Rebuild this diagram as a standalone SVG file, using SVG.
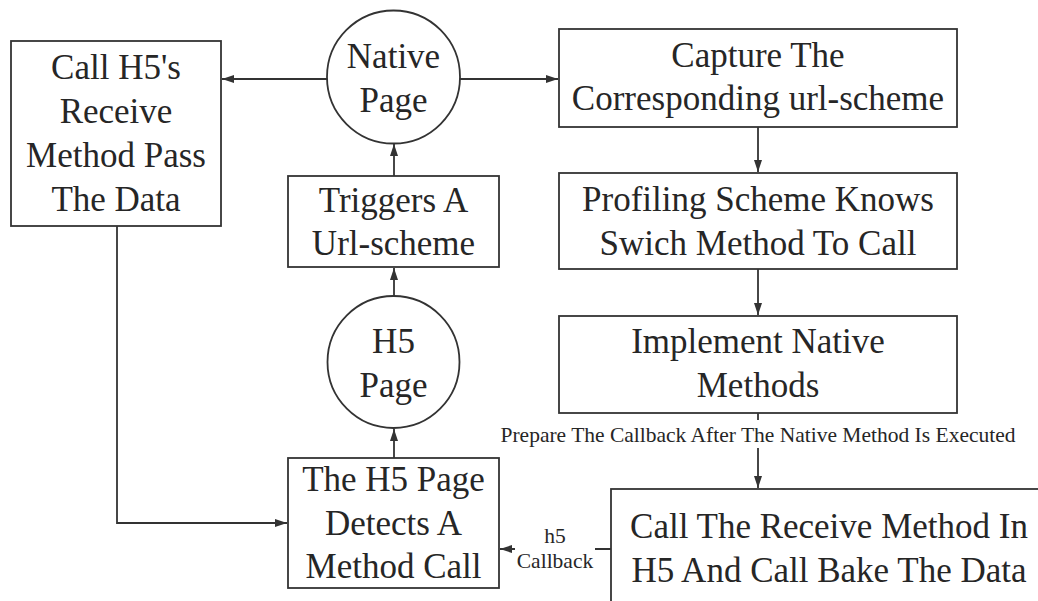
<svg xmlns="http://www.w3.org/2000/svg" width="1038" height="601" viewBox="0 0 1038 601">
<style>
.box{fill:#fff;stroke:#333;stroke-width:1.8}
.t{font-family:'Liberation Serif','DejaVu Serif',serif;font-size:35px;fill:#262626;text-anchor:middle}
.s{font-family:'Liberation Serif','DejaVu Serif',serif;font-size:21.5px;fill:#262626;text-anchor:middle}
.c{fill:none;stroke:#333;stroke-width:1.8}
</style>
<defs>
<marker id="ah" markerUnits="userSpaceOnUse" markerWidth="12" markerHeight="8" refX="12" refY="4" orient="auto">
<path d="M0,0 L12,4 L0,8 z" fill="#333"/>
</marker>
</defs>
<rect width="1038" height="601" fill="#fff"/>
<g id="connectors">
<line class="c" x1="327" y1="79" x2="222" y2="79" marker-end="url(#ah)"/>
<line class="c" x1="460" y1="79" x2="558" y2="79" marker-end="url(#ah)"/>
<line class="c" x1="758" y1="127" x2="758" y2="172" marker-end="url(#ah)"/>
<line class="c" x1="758" y1="269" x2="758" y2="315" marker-end="url(#ah)"/>
<line class="c" x1="758" y1="413" x2="758" y2="488" marker-end="url(#ah)"/>
<rect x="498" y="420" width="521" height="28" fill="#fff"/>
<text class="s" x="758" y="442">Prepare The Callback After The Native Method Is Executed</text>
<line class="c" x1="611" y1="549" x2="500" y2="549" marker-end="url(#ah)"/>
<rect x="515" y="524" width="80" height="50" fill="#fff"/>
<text class="s" x="555" y="543">h5</text>
<text class="s" x="555" y="568">Callback</text>
<polyline class="c" points="117,226 117,523 287,523" marker-end="url(#ah)"/>
<line class="c" x1="394" y1="458" x2="394" y2="429" marker-end="url(#ah)"/>
<line class="c" x1="394" y1="296" x2="394" y2="268" marker-end="url(#ah)"/>
<line class="c" x1="394" y1="176" x2="394" y2="144" marker-end="url(#ah)"/>
</g>
<g id="call-h5-receive">
<rect class="box" x="11" y="41" width="210" height="185"/>
<text class="t" x="116" y="79">Call H5's</text>
<text class="t" x="116" y="123">Receive</text>
<text class="t" x="116" y="167">Method Pass</text>
<text class="t" x="116" y="211">The Data</text>
</g>
<g id="native-page">
<circle class="box" cx="393.5" cy="77" r="66.5"/>
<text class="t" x="393.5" y="68">Native</text>
<text class="t" x="393.5" y="112">Page</text>
</g>
<g id="triggers">
<rect class="box" x="288" y="176" width="211" height="91"/>
<text class="t" x="393.5" y="212">Triggers A</text>
<text class="t" x="393.5" y="255">Url-scheme</text>
</g>
<g id="h5-page">
<circle class="box" cx="393.5" cy="362" r="66"/>
<text class="t" x="393.5" y="353">H5</text>
<text class="t" x="393.5" y="397">Page</text>
</g>
<g id="detects">
<rect class="box" x="288" y="458" width="211" height="130"/>
<text class="t" x="393.5" y="491">The H5 Page</text>
<text class="t" x="393.5" y="535">Detects A</text>
<text class="t" x="393.5" y="578">Method Call</text>
</g>
<g id="capture">
<rect class="box" x="559" y="29" width="398" height="98"/>
<text class="t" x="758" y="67">Capture The</text>
<text class="t" x="758" y="110">Corresponding url-scheme</text>
</g>
<g id="profiling">
<rect class="box" x="559" y="173" width="398" height="96"/>
<text class="t" x="758" y="211">Profiling Scheme Knows</text>
<text class="t" x="758" y="255">Swich Method To Call</text>
</g>
<g id="implement">
<rect class="box" x="559" y="316" width="398" height="97"/>
<text class="t" x="758" y="353">Implement Native</text>
<text class="t" x="758" y="397">Methods</text>
</g>
<g id="call-receive">
<rect class="box" x="611" y="489" width="460" height="140"/>
<text class="t" x="829" y="538">Call The Receive Method In</text>
<text class="t" x="829" y="582">H5 And Call Bake The Data</text>
</g>
</svg>
